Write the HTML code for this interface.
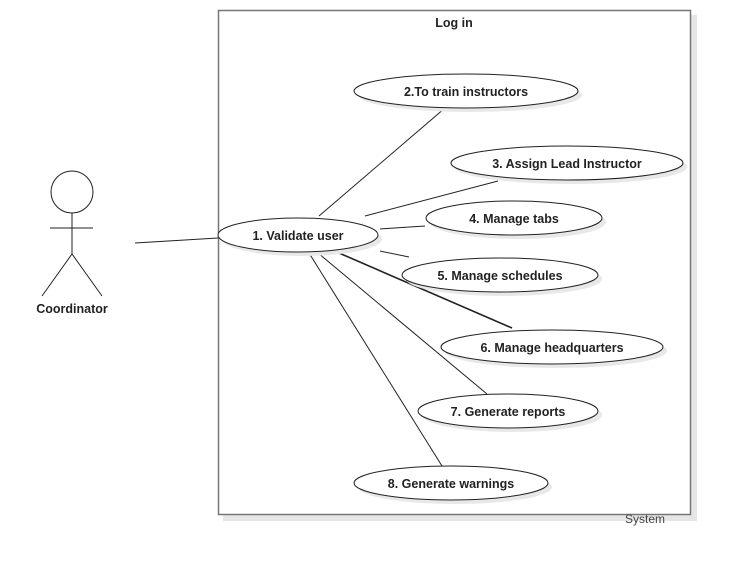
<!DOCTYPE html>
<html><head><meta charset="utf-8"><style>
html,body{margin:0;padding:0;background:#fff;}
svg{display:block;}
text{font-family:"Liberation Sans",Arial,sans-serif;font-size:12.5px;font-weight:bold;fill:#222;}
</style></head><body>
<svg width="730" height="570" viewBox="0 0 730 570" xmlns="http://www.w3.org/2000/svg">
<rect x="223" y="15" width="474" height="506" fill="#e6e6e6"/>
<rect x="218.5" y="10.5" width="472" height="504" fill="#fff" stroke="#777" stroke-width="1.5"/>
<text x="454" y="27" text-anchor="middle">Log in</text>
<text x="645" y="523" text-anchor="middle" style="font-weight:normal;fill:#444;font-size:12px">System</text>
<!-- actor -->
<g stroke="#222" stroke-width="1" fill="none">
<circle cx="72" cy="192" r="21" fill="#fff"/>
<line x1="72" y1="213" x2="72" y2="254"/>
<line x1="50" y1="228" x2="93" y2="228"/>
<line x1="72" y1="254" x2="42" y2="296"/>
<line x1="72" y1="254" x2="102" y2="296"/>
<line x1="135" y1="243" x2="218" y2="238"/>
<line x1="319" y1="216" x2="445" y2="108"/>
<line x1="365" y1="216" x2="498" y2="181"/>
<line x1="380" y1="229" x2="425" y2="226"/>
<line x1="380" y1="251" x2="409" y2="257"/>
<line x1="339" y1="253" x2="512" y2="328" stroke-width="1.6"/>
<line x1="318" y1="253" x2="487" y2="394"/>
<line x1="309" y1="253" x2="442" y2="466"/>
</g>
<text x="72" y="313" text-anchor="middle">Coordinator</text>
<!-- ellipses -->
<g fill="#e8e8e8">
<ellipse cx="302" cy="239" rx="80" ry="17"/>
<ellipse cx="470" cy="95" rx="112" ry="17"/>
<ellipse cx="571" cy="167" rx="116" ry="17"/>
<ellipse cx="518" cy="222" rx="88" ry="17"/>
<ellipse cx="504" cy="279" rx="98" ry="17"/>
<ellipse cx="556" cy="351" rx="111" ry="17"/>
<ellipse cx="512" cy="415" rx="90" ry="17"/>
<ellipse cx="455" cy="487" rx="97" ry="17"/>
</g>
<g fill="#fff" stroke="#222" stroke-width="1">
<ellipse cx="298" cy="235" rx="80" ry="17"/>
<ellipse cx="466" cy="91" rx="112" ry="17"/>
<ellipse cx="567" cy="163" rx="116" ry="17"/>
<ellipse cx="514" cy="218" rx="88" ry="17"/>
<ellipse cx="500" cy="275" rx="98" ry="17"/>
<ellipse cx="552" cy="347" rx="111" ry="17"/>
<ellipse cx="508" cy="411" rx="90" ry="17"/>
<ellipse cx="451" cy="483" rx="97" ry="17"/>
</g>
<text x="298" y="240" text-anchor="middle">1. Validate user</text>
<text x="466" y="96" text-anchor="middle">2.To train instructors</text>
<text x="567" y="168" text-anchor="middle">3. Assign Lead Instructor</text>
<text x="514" y="223" text-anchor="middle">4. Manage tabs</text>
<text x="500" y="280" text-anchor="middle">5. Manage schedules</text>
<text x="552" y="352" text-anchor="middle">6. Manage headquarters</text>
<text x="508" y="416" text-anchor="middle">7. Generate reports</text>
<text x="451" y="488" text-anchor="middle">8. Generate warnings</text>
</svg>
</body></html>
